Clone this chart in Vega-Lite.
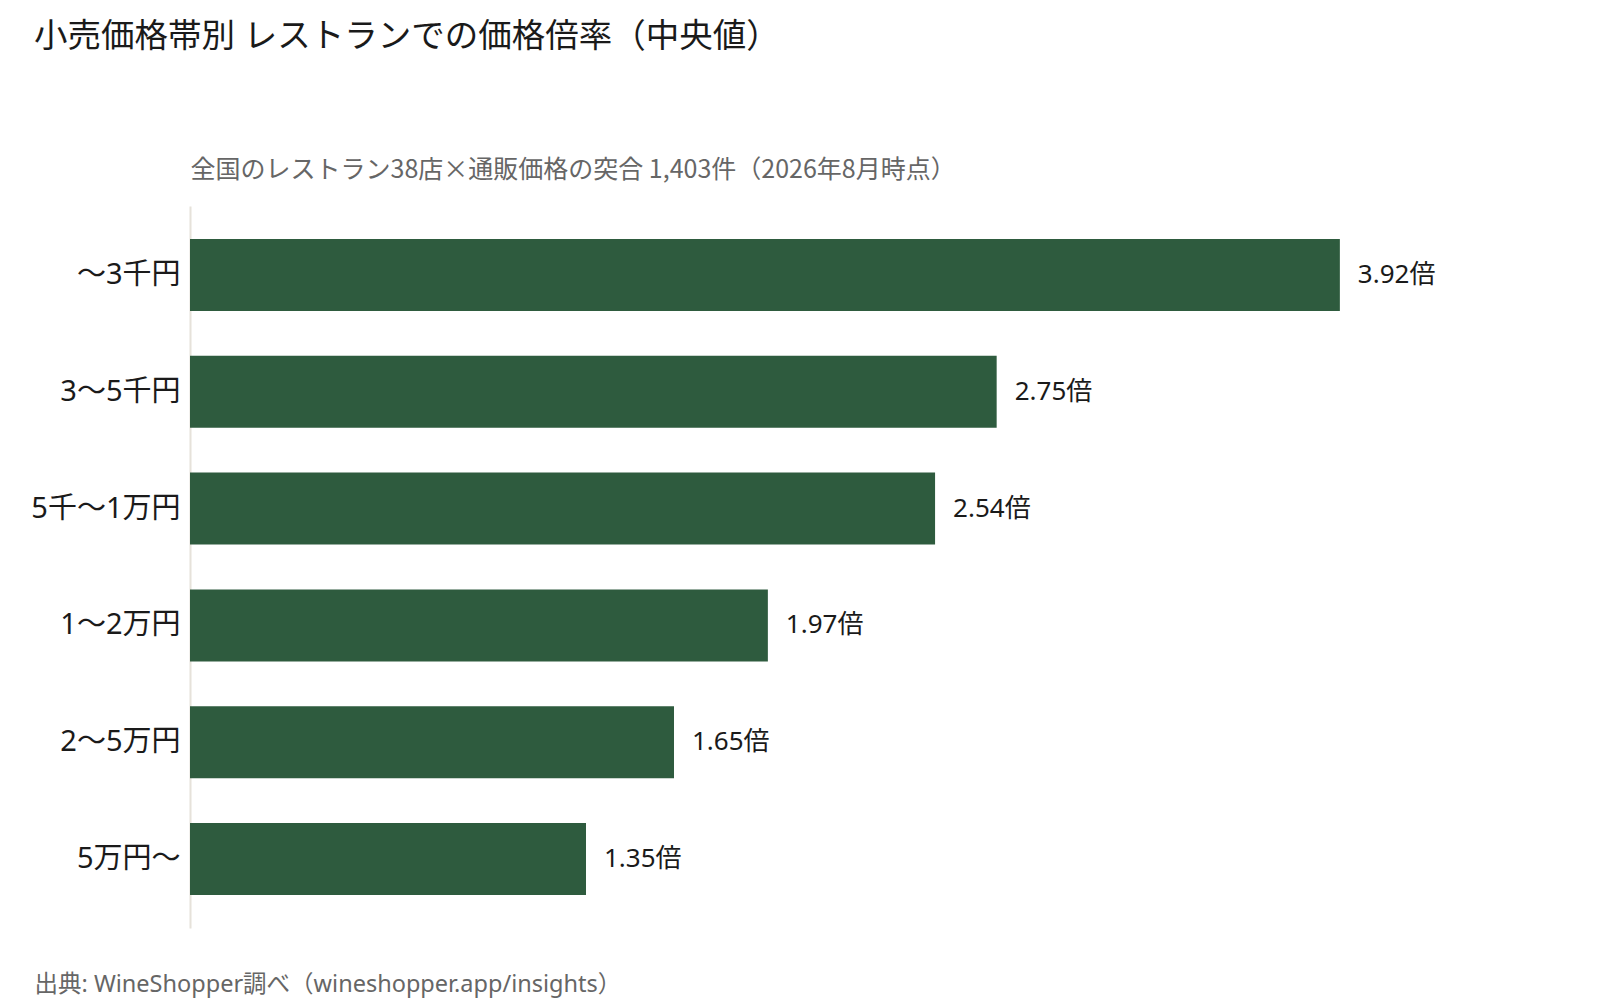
{
  "$schema": "https://vega.github.io/schema/vega-lite/v6.json",
  "autosize": {"type": "none"},
  "padding": {"left": 190, "top": 206, "right": 90, "bottom": 76},
  "width": 1320,
  "height": 722,
  "background": "white",
  "config": {
    "font": "Noto Sans, Noto Sans CJK JP",
    "view": {"stroke": null}
  },
  "title": {
    "text": "小売価格帯別 レストランでの価格倍率（中央値）",
    "anchor": "start",
    "frame": "group",
    "dx": -156,
    "offset": 103,
    "fontSize": 33.5,
    "fontWeight": "normal",
    "color": "#1a1a1a"
  },
  "data": {
    "values": [
      {"band": "〜3千円", "ratio": 3.92, "label": "3.92倍"},
      {"band": "3〜5千円", "ratio": 2.75, "label": "2.75倍"},
      {"band": "5千〜1万円", "ratio": 2.54, "label": "2.54倍"},
      {"band": "1〜2万円", "ratio": 1.97, "label": "1.97倍"},
      {"band": "2〜5万円", "ratio": 1.65, "label": "1.65倍"},
      {"band": "5万円〜", "ratio": 1.35, "label": "1.35倍"}
    ]
  },
  "encoding": {
    "y": {
      "field": "band",
      "type": "nominal",
      "sort": null,
      "scale": {"paddingInner": 0.384, "paddingOuter": 0.282},
      "axis": {
        "title": null,
        "ticks": false,
        "labelPadding": 10,
        "labelFontSize": 29,
        "labelColor": "#1a1a1a",
        "domainColor": "#e6e2da",
        "domainWidth": 2
      }
    }
  },
  "layer": [
    {
      "mark": {"type": "bar", "color": "#2e5b3e"},
      "encoding": {
        "x": {
          "field": "ratio",
          "type": "quantitative",
          "scale": {"domain": [0, 4.5]},
          "axis": {
            "orient": "top",
            "labels": false,
            "ticks": false,
            "domain": false,
            "grid": false,
            "title": "全国のレストラン38店×通販価格の突合 1,403件（2026年8月時点）",
            "titleAnchor": "start",
            "titleAlign": "left",
            "titleBaseline": "middle",
            "titleX": 0,
            "titleY": -37,
            "titleFont": "Noto Sans CJK JP",
            "titleFontSize": 25,
            "titleFontWeight": "normal",
            "titleColor": "#666666"
          }
        }
      }
    },
    {
      "mark": {"type": "text", "align": "left", "baseline": "middle", "dx": 18, "fontSize": 26, "color": "#1a1a1a"},
      "encoding": {
        "x": {
          "field": "ratio",
          "type": "quantitative",
          "axis": {
            "orient": "bottom",
            "labels": false,
            "ticks": false,
            "domain": false,
            "grid": false,
            "title": "出典: WineShopper調べ（wineshopper.app/insights）",
            "titleAnchor": "start",
            "titleAlign": "left",
            "titleBaseline": "middle",
            "titleX": -156,
            "titleY": 56,
            "titleFontSize": 23.5,
            "titleFontWeight": "normal",
            "titleColor": "#666666"
          }
        },
        "text": {"field": "label"}
      }
    }
  ],
  "resolve": {"axis": {"x": "independent"}}
}
